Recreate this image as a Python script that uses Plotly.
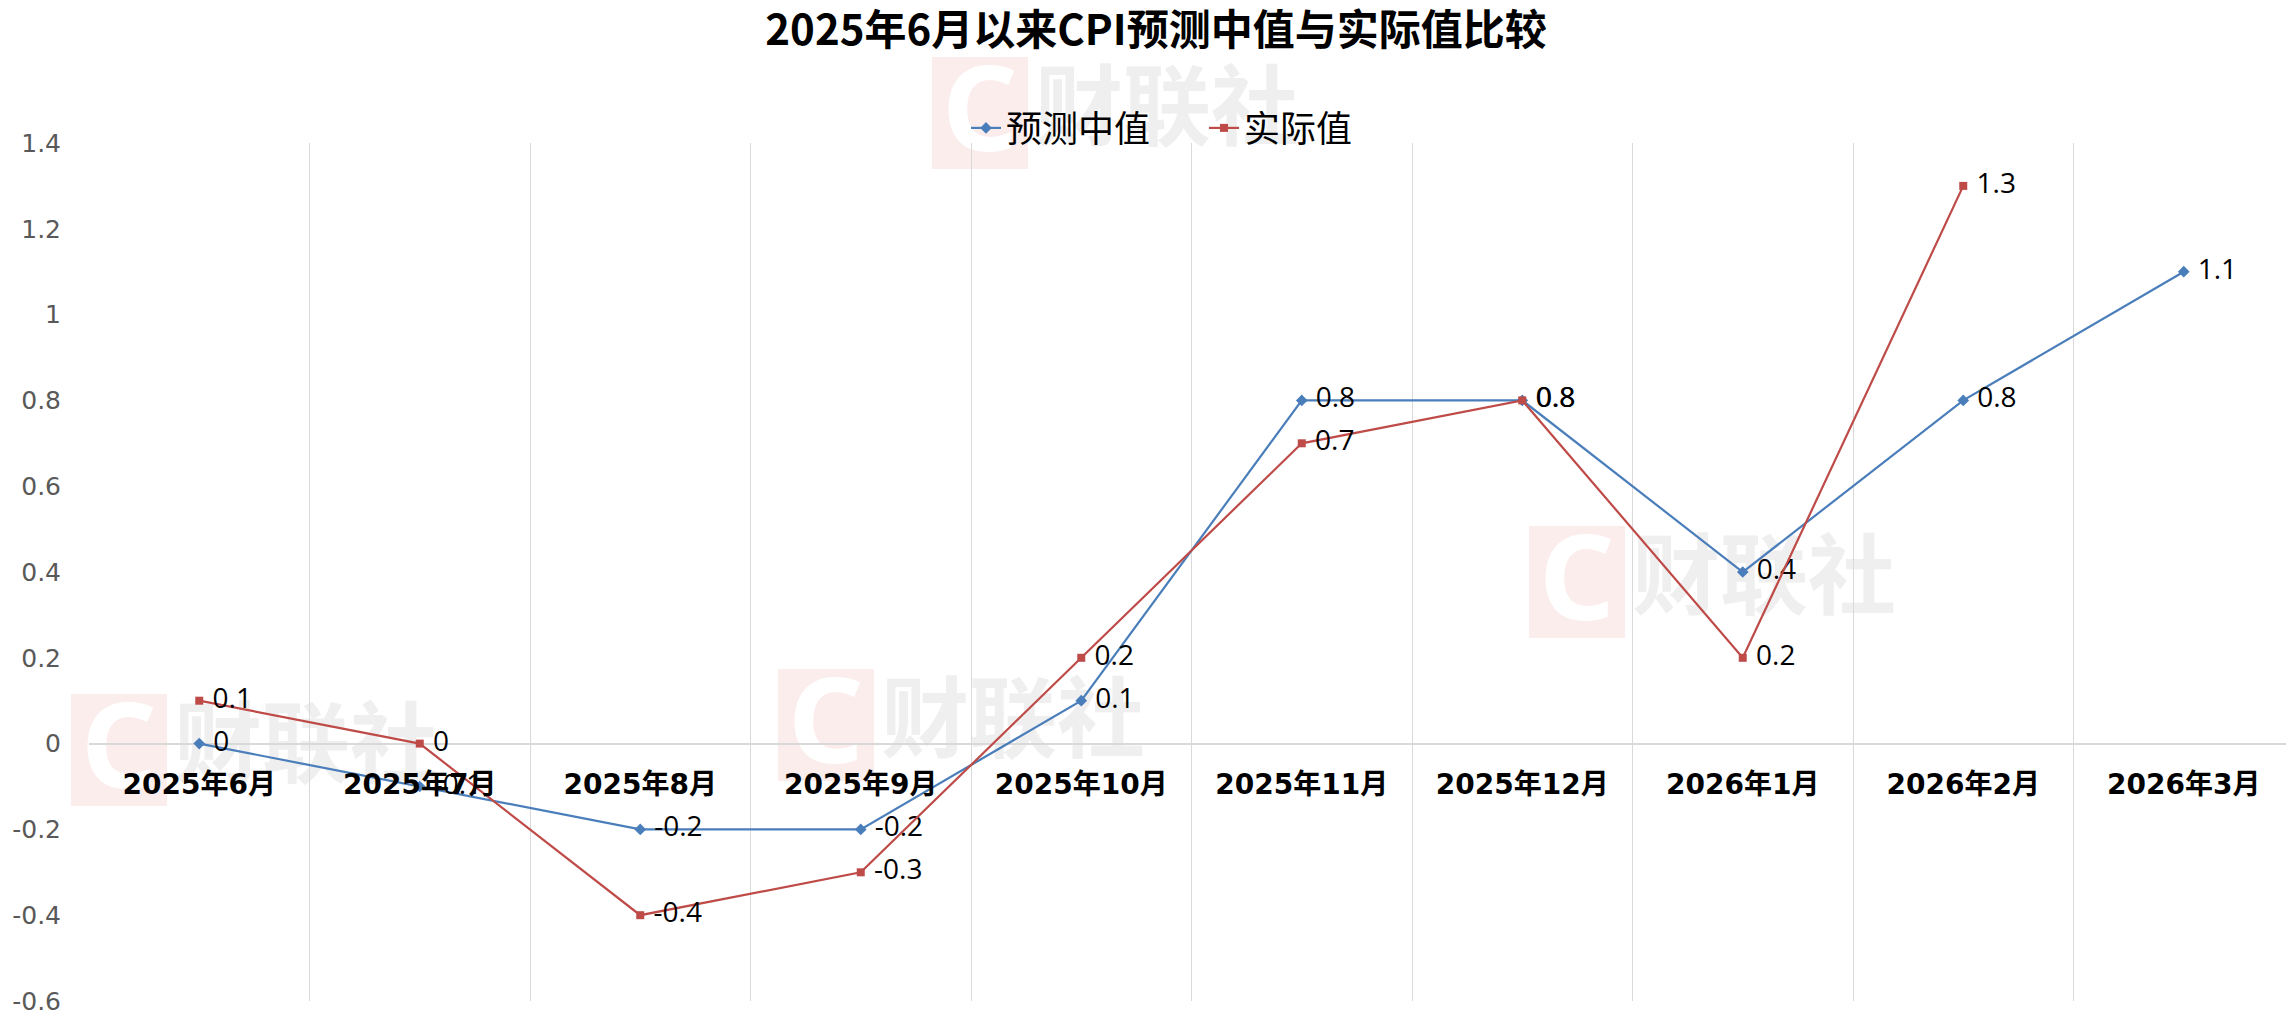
import plotly.graph_objects as go

categories = ["2025年6月", "2025年7月", "2025年8月", "2025年9月", "2025年10月",
              "2025年11月", "2025年12月", "2026年1月", "2026年2月", "2026年3月"]
forecast_median = [0, -0.1, -0.2, -0.2, 0.1, 0.8, 0.8, 0.4, 0.8, 1.1]
actual_value = [0.1, 0, -0.4, -0.3, 0.2, 0.7, 0.8, 0.2, 1.3, None]
y_ticks = [-0.6, -0.4, -0.2, 0, 0.2, 0.4, 0.6, 0.8, 1, 1.2, 1.4]
title_text = "2025年6月以来CPI预测中值与实际值比较"
series_names = ["预测中值", "实际值"]
watermark_text = "财联社"

# page layout (page pixels); the page body has an 8px margin
O = 8
PW, PH = 2294, 1026
L, R, T, B = 89, 2294, 143, 1001
W, H = PW - O, PH - O


def px2x(px):
    return (px - L) / (R - L)


def py2y(py):
    return (B - py) / (B - T)


def fmt(v):
    if v is None:
        return ""
    return ("%g" % v)


label_font = dict(family="Open Sans, Noto Sans CJK SC", size=28, color="#000000")

fig = go.Figure()
fig.add_trace(go.Scatter(
    x=categories, y=forecast_median, name=series_names[0],
    mode="lines+markers+text",
    text=[fmt(v) for v in forecast_median], texttemplate="\u00a0%{text}",
    textposition="middle right", textfont=label_font,
    line=dict(color="#4A7EBB", width=2.2),
    marker=dict(symbol="diamond", size=9, color="#4A7EBB"),
    cliponaxis=False,
))
fig.add_trace(go.Scatter(
    x=categories, y=actual_value, name=series_names[1],
    mode="lines+markers+text",
    text=[fmt(v) for v in actual_value], texttemplate="\u00a0%{text}",
    textposition="middle right", textfont=label_font,
    line=dict(color="#BE4B48", width=2.2),
    marker=dict(symbol="square", size=8, color="#BE4B48"),
    cliponaxis=False,
))

shapes = []
for cx, cy in [(980, 113), (1577, 582), (119, 750), (826, 725)]:
    bw, bh = 96, 112
    x0, x1 = cx - bw / 2, cx + bw / 2
    y0, y1 = cy - bh / 2, cy + bh / 2
    shapes.append(dict(
        type="rect", xref="paper", yref="paper", layer="below",
        x0=px2x(x0), x1=px2x(x1), y0=py2y(y1), y1=py2y(y0),
        fillcolor="#FCEDED", line=dict(width=0),
        label=dict(text="<b>C</b>", font=dict(family="Noto Sans", size=118, color="#FFFFFF"),
                   textposition="middle center"),
    ))
    tx0 = x1 + 10
    shapes.append(dict(
        type="rect", xref="paper", yref="paper", layer="below",
        x0=px2x(tx0), x1=px2x(tx0 + 258), y0=py2y(cy + 50), y1=py2y(cy - 50),
        fillcolor="rgba(0,0,0,0)", line=dict(width=0),
        label=dict(text="<b>" + watermark_text + "</b>",
                   font=dict(family="Noto Sans CJK SC", size=88, color="#EFEFEF"),
                   textposition="middle center"),
    ))

fig.update_layout(
    width=W, height=H,
    margin=dict(l=L - O, r=0, t=T - O, b=H - (B - O), autoexpand=False),
    paper_bgcolor="#FFFFFF", plot_bgcolor="#FFFFFF",
    title=dict(text="<b>" + title_text + "</b>", xref="paper", x=px2x(1156), xanchor="center",
               yref="container", y=1 - (30 - O) / H, yanchor="middle",
               font=dict(family="Noto Sans CJK SC", size=42, color="#000000")),
    showlegend=True,
    legend=dict(orientation="h", x=px2x(966), xanchor="left", y=py2y(128), yanchor="middle",
                font=dict(family="Noto Sans CJK SC", size=36, color="#000000"),
                bgcolor="rgba(0,0,0,0)", itemwidth=30, entrywidth=193, entrywidthmode="pixels"),
    shapes=shapes,
    xaxis=dict(
        type="category", range=[-0.5, 9.5], tickson="boundaries",
        showgrid=True, gridcolor="#D9D9D9", gridwidth=1,
        anchor="free", position=0.3, showline=False, ticks="",
        ticklabelstandoff=21,
        tickfont=dict(family="DejaVu Sans, Noto Sans CJK SC", size=28, color="#000000", weight="bold"),
        automargin=False, fixedrange=True,
    ),
    yaxis=dict(
        range=[-0.6, 1.4], tickvals=y_ticks, ticktext=[fmt(v) for v in y_ticks],
        showgrid=False, zeroline=True, zerolinecolor="#D9D9D9", zerolinewidth=1.5,
        showline=False, ticks="", ticklabelstandoff=27,
        tickfont=dict(family="DejaVu Sans", size=25, color="#595959"),
        automargin=False, fixedrange=True,
    ),
)

fig.write_html("out.html")
